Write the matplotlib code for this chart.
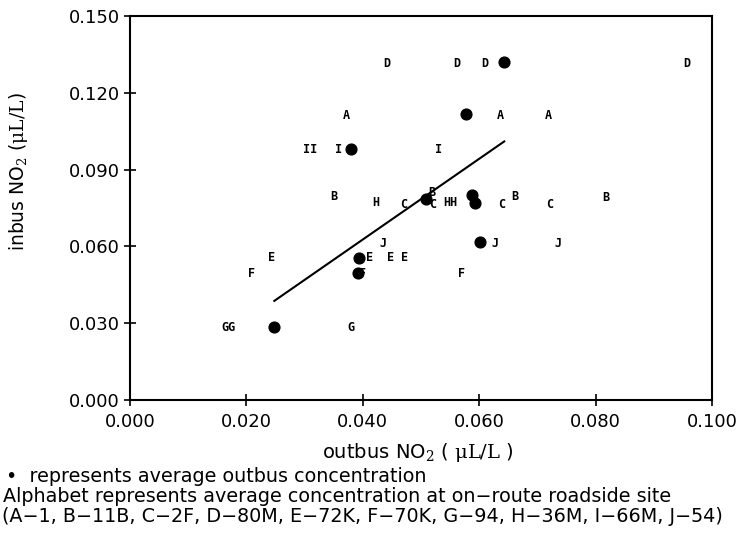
import numpy as np
import matplotlib
matplotlib.use("Agg")
import matplotlib.pyplot as plt

# ----------------------------------------
# Data: roadside site letters (outbus x, inbus y)
# ----------------------------------------
site_labels = ["D", "D", "D", "D",
               "A", "A", "A",
               "II", "I", "I",
               "B", "H", "C", "B", "C", "HH", "C", "B", "C", "B",
               "J", "J", "J",
               "E", "E", "E", "E",
               "F", "F", "F",
               "GG", "G"]
site_x = [0.0441, 0.0561, 0.0609, 0.0957,
          0.0371, 0.0636, 0.0718,
          0.0309, 0.0359, 0.0530,
          0.0350, 0.0422, 0.0470, 0.0518, 0.0520, 0.0550, 0.0638, 0.0662, 0.0721, 0.0817,
          0.0434, 0.0627, 0.0735,
          0.0244, 0.0412, 0.0448, 0.0472,
          0.0209, 0.0400, 0.0569,
          0.0169, 0.0380]
site_y = [0.1316, 0.1316, 0.1316, 0.1316,
          0.1113, 0.1113, 0.1113,
          0.0980, 0.0980, 0.0980,
          0.0797, 0.0770, 0.0762, 0.0809, 0.0762, 0.0770, 0.0762, 0.0797, 0.0762, 0.0793,
          0.0613, 0.0613, 0.0613,
          0.0555, 0.0555, 0.0555, 0.0555,
          0.0494, 0.0494, 0.0496,
          0.0285, 0.0285]

# Average outbus concentration (dots)
avg_x = [0.0248, 0.0379, 0.0391, 0.0393, 0.0509, 0.0578, 0.0588, 0.0593, 0.0601, 0.0643]
avg_y = [0.0285, 0.0980, 0.0496, 0.0555, 0.0785, 0.1117, 0.0801, 0.0770, 0.0617, 0.1320]

# ----------------------------------------
# Figure
# ----------------------------------------
plt.rcParams["mathtext.fontset"] = "dejavuserif"
fig = plt.figure(figsize=(7.53, 5.36), dpi=100)
ax = fig.add_axes([0.1726, 0.2537, 0.7730, 0.7163])

# letters
for lab, x, y in zip(site_labels, site_x, site_y):
    ax.text(x, y, lab, ha="center", va="center", fontsize=8.5,
            fontweight="bold", family="DejaVu Sans Mono")

# dots
ax.scatter(avg_x, avg_y, s=60, color="black", zorder=3)

# regression line through the dots
slope, icpt = np.polyfit(avg_x, avg_y, 1)
xs = np.array([min(avg_x), max(avg_x)])
ax.plot(xs, slope * xs + icpt, color="black", linewidth=1.5)

ax.set_xlim(0, 0.1)
ax.set_ylim(0, 0.15)
ax.set_xticks([0.0, 0.02, 0.04, 0.06, 0.08, 0.1])
ax.set_yticks([0.0, 0.03, 0.06, 0.09, 0.12, 0.15])
ax.xaxis.set_major_formatter(plt.FuncFormatter(lambda v, _: f"{v:.3f}"))
ax.yaxis.set_major_formatter(plt.FuncFormatter(lambda v, _: f"{v:.3f}"))
ax.tick_params(direction="inout", length=9, width=1.2, labelsize=13, pad=3)
ax.tick_params(axis="x", pad=5)
for sp in ax.spines.values():
    sp.set_linewidth(1.5)

fig.text(0.555, 0.156, r"outbus NO$_2$ ( $\mathrm{\mu L/L}$ )", ha="center",
         va="center", fontsize=14)
fig.text(0.025, 0.68, r"inbus NO$_2$ ($\mathrm{\mu L/L}$)", ha="center",
         va="center", rotation=90, fontsize=13.5)

# footnote
fig.text(0.008, 0.1101, "•  represents average outbus concentration",
         ha="left", va="center", fontsize=13.8)
fig.text(0.004, 0.0737,
         "Alphabet represents average concentration at on\u2212route roadside site",
         ha="left", va="center", fontsize=13.8)
fig.text(0.002, 0.0373,
         "(A\u22121, B\u221211B, C\u22122F, D\u221280M, E\u221272K, F\u221270K, "
         "G\u221294, H\u221236M, I\u221266M, J\u221254)",
         ha="left", va="center", fontsize=13.8)

fig.savefig("out.png", dpi=100)
